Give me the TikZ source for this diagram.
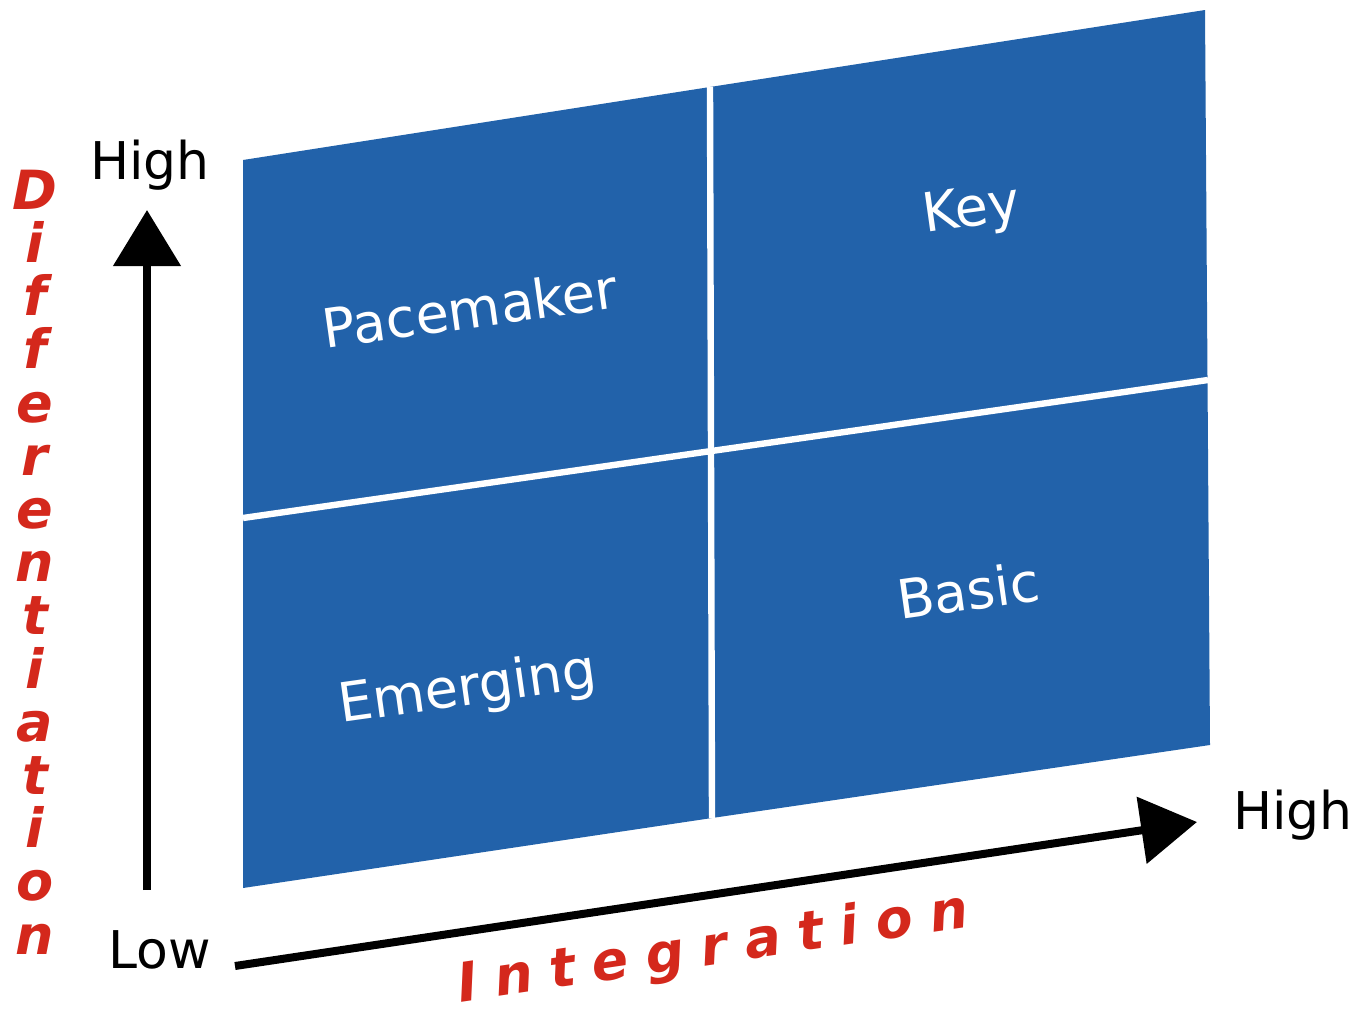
\documentclass[tikz,border=0pt]{standalone}
\usepackage{fontspec}
\setmainfont{DejaVu Sans}
\usepackage{tikz}
\usetikzlibrary{arrows.meta}

\definecolor{quadblue}{RGB}{34,98,170}
\definecolor{axisred}{RGB}{212,40,28}

\tikzset{
  quadfill/.style={fill=quadblue},
  divider/.style={draw=white, line width=3.2pt},
  axisarrow/.style={line width=4pt, -{Triangle[length=28pt,width=33pt]}},
  quadlabel/.style={text=white, font=\fontsize{27}{30}\selectfont, inner sep=0.75pt, rotate=8},
  levellabel/.style={font=\fontsize{26}{28}\selectfont, inner sep=0.75pt},
  axistitle/.style={text=axisred, font=\bfseries\itshape\fontsize{27}{26.6}\selectfont, inner sep=0.75pt}
}

\begin{document}
\begin{tikzpicture}[x=0.5pt,y=0.5pt,yscale=-1,xscale=1]
\useasboundingbox (0,0) rectangle (1360,1012);

%Corners of the matrix
\coordinate (tl) at (243,160);
\coordinate (tm) at (710,87);
\coordinate (tr) at (1205,10);
\coordinate (br) at (1210,745);
\coordinate (bm) at (712,818);
\coordinate (bl) at (243,888);
\coordinate (ml) at (243,518);
\coordinate (mr) at (1208,380);

%Matrix
\fill [quadfill] (tl) -- (tm) -- (tr) -- (br) -- (bm) -- (bl) -- cycle;
\draw [divider] (tm) -- (bm);
\draw [divider] (ml) -- (mr);

%Axes
\coordinate (yfrom) at (147,890);
\coordinate (yto) at (147,210);
\coordinate (xfrom) at (235,966);
\coordinate (xto) at (1197,822);
\draw [axisarrow] (yfrom) -- (yto);
\draw [axisarrow] (xfrom) -- (xto);

% Text Node
\node (pacemaker) at (470,308) [quadlabel] {Pacemaker};
% Text Node
\node (key) at (972,212) [quadlabel] {Key};
% Text Node
\node (emerging) at (468,690) [quadlabel] {Emerging};
% Text Node
\node (basic) at (968,590) [quadlabel] {Basic};
% Text Node
\node (yhigh) at (150,165) [levellabel] {High};
% Text Node
\node (ylow) at (160,950) [levellabel] {Low};
% Text Node
\node (xhigh) at (1293,815) [levellabel] {High};
% Text Node
\node (ytitle) at (35,562) [axistitle, align=center] {D\\i\\f\\f\\e\\r\\e\\n\\t\\i\\a\\t\\i\\o\\n};
% Text Node
\node (xtitle) at (713,950) [axistitle, rotate=8.4] {\addfontfeature{LetterSpace=32}Integration};

\end{tikzpicture}
\end{document}
